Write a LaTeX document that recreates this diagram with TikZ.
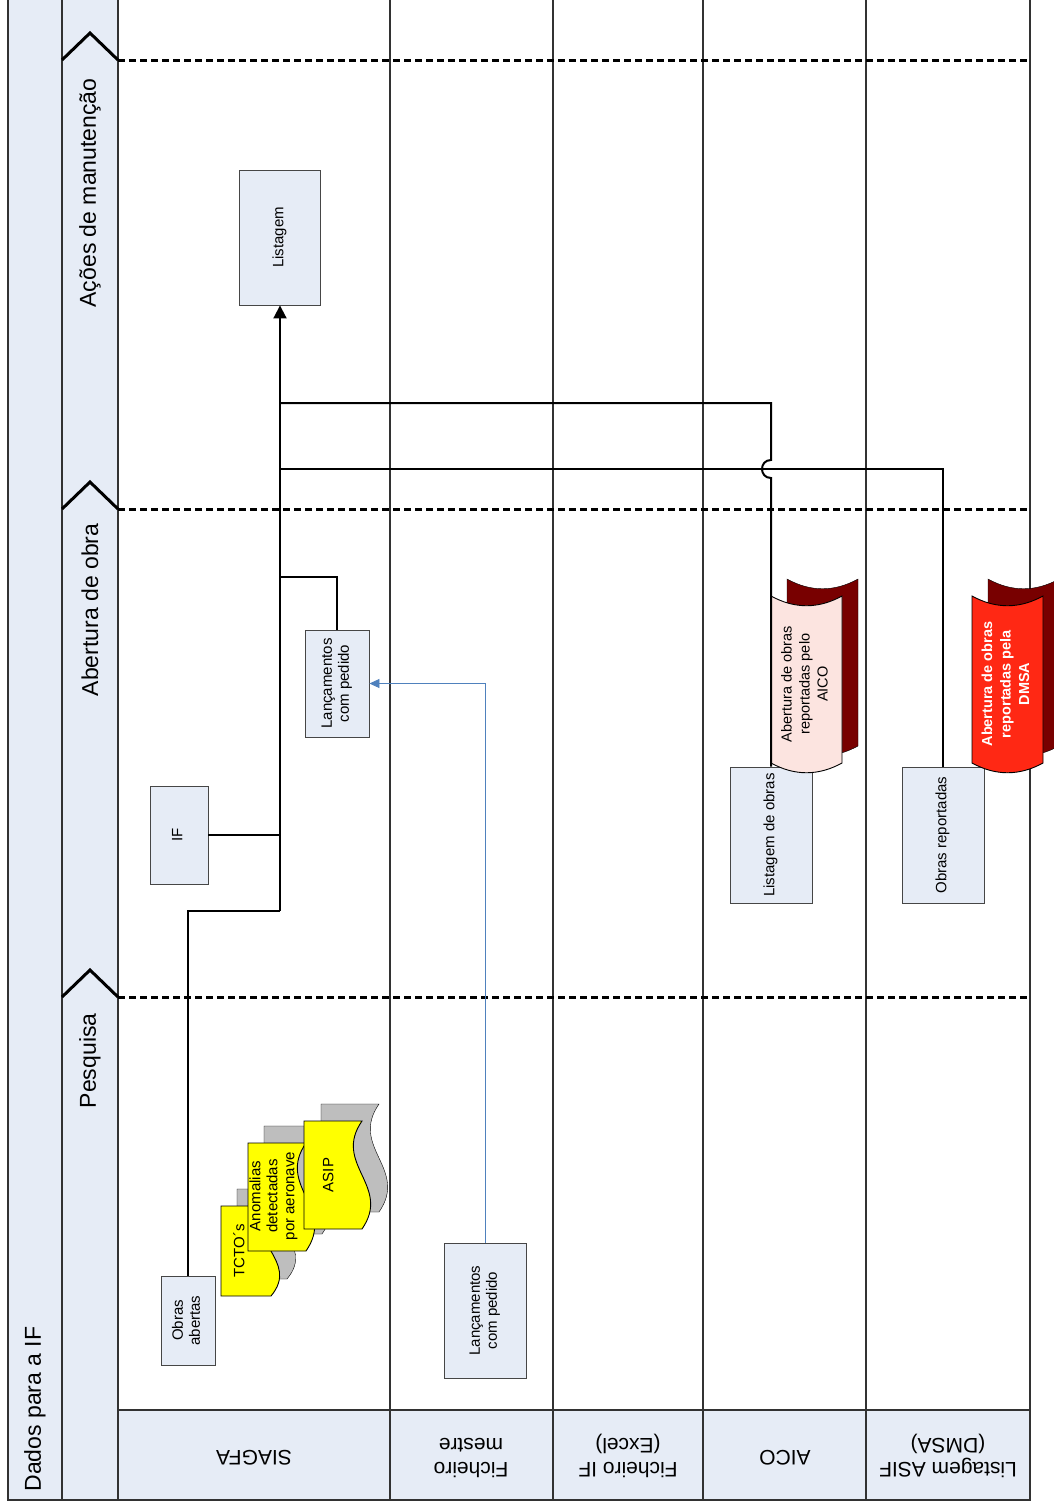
\documentclass[tikz,border=0pt]{standalone}
\usepackage{fontspec}
\setmainfont{Liberation Sans}
\usetikzlibrary{arrows.meta,calc}

\definecolor{laneblue}{RGB}{230,236,246}
\definecolor{boxedge}{RGB}{70,70,70}
\definecolor{docred}{RGB}{255,40,20}
\definecolor{darkred}{RGB}{120,0,0}
\definecolor{docpink}{RGB}{252,228,224}
\definecolor{shadowgray}{RGB}{190,190,190}
\definecolor{linkblue}{RGB}{79,129,189}
\definecolor{docyellow}{RGB}{255,255,0}

% text turned a quarter turn (reads bottom to top), several centred lines
\newcommand{\vtext}[1]{\rotatebox{90}{\begin{tabular}{@{}c@{}}#1\end{tabular}}}
% text turned upside down, used in the lane headers
\newcommand{\ftext}[1]{\rotatebox{180}{\begin{tabular}{@{}c@{}}#1\end{tabular}}}
% document sheet with a wavy right edge: style, left x, top y, right x, bottom y
\newcommand{\wdoc}[5]{%
  \draw[#1] (#2,#3) -- (#4,#3)
    .. controls ({#4-30},{#3+0.4*(#5-#3)}) and ({#4+30},{#3+0.6*(#5-#3)}) .. (#4,#5)
    -- (#2,#5) -- cycle;}
% curved tape sheet: style, left x, top y, width
\newcommand{\tape}[4]{%
  \draw[#1] (#2,#3) .. controls ({#2+#4/3},{#3+13}) and ({#2+2*#4/3},{#3+13}) .. ({#2+#4},#3)
    -- ({#2+#4},{#3+167})
    .. controls ({#2+2*#4/3},{#3+180}) and ({#2+#4/3},{#3+180}) .. (#2,{#3+167}) -- cycle;}

\begin{document}
\begin{tikzpicture}[x=1pt,y=-1pt,
  proc/.style={draw=boxedge, fill=laneblue, line width=0.9pt, inner sep=0pt,
    font=\fontsize{15}{17}\selectfont},
  flow/.style={line width=2pt, black},
  link/.style={line width=0.8pt, linkblue, -{Triangle[length=10pt,width=9pt]}},
  lanerule/.style={line width=1.2pt, draw={rgb,255:red,50;green,50;blue,50}},
  phasesep/.style={line width=3pt, black, dash pattern=on 7pt off 4pt},
  chevron/.style={line width=3pt, black, line join=miter},
  phaselabel/.style={rotate=90, anchor=east, font=\fontsize{23}{27}\selectfont},
  headlabel/.style={font=\fontsize{21}{24}\selectfont},
  doclabel/.style={font=\fontsize{15}{17}\selectfont}]

\useasboundingbox (0,0) rectangle (1053,1507);
\fill[white] (0,0) rectangle (1053,1507);

% ---------- pool frame ----------
\fill[laneblue] (8,0) rectangle (118,1500);
\fill[laneblue] (118,1410) rectangle (1030,1500);
\draw[lanerule] (8,0) -- (8,1500) -- (1030,1500) -- (1030,0);
\draw[lanerule] (62,0) -- (62,1500);
\foreach \x in {118,390,553,703,866}
  \draw[lanerule] (\x,0) -- (\x,1500);
\draw[lanerule] (118,1410) -- (1030,1410);

\node[rotate=90, anchor=west, font=\fontsize{23}{27}\selectfont] (title) at (35,1495) {Dados para a IF};

% ---------- phases ----------
\foreach \y in {60,509,997} {
  \draw[chevron] (62,\y) -- (90,\y-27) -- (118,\y);
  \draw[phasesep] (118,\y) -- (1030,\y);
}
\node[phaselabel] (ph3) at (90,75) {Ações de manutenção};
\node[phaselabel] (ph2) at (90,520) {Abertura de obra};
\node[phaselabel] (ph1) at (90,1010) {Pesquisa};

% ---------- lane headers ----------
\node[headlabel] (h1) at (254,1455) {\ftext{SIAGFA}};
\node[headlabel] (h2) at (471,1455) {\ftext{Ficheiro\\mestre}};
\node[headlabel] (h3) at (628,1455) {\ftext{Ficheiro IF\\(Excel)}};
\node[headlabel] (h4) at (785,1455) {\ftext{AICO}};
\node[headlabel] (h5) at (948,1455) {\ftext{Listagem ASIF\\(DMSA)}};

% ---------- process boxes ----------
\node[proc, minimum width=54pt, minimum height=89pt] (obras) at (188,1320.5) {\vtext{Obras\\abertas}};
\node[proc, minimum width=58pt, minimum height=98pt] (if) at (179,835) {\vtext{IF}};
\node[proc, minimum width=81pt, minimum height=135pt] (list) at (280,237.5) {\vtext{Listagem}};
\node[proc, minimum width=64pt, minimum height=107pt] (lanc1) at (337,683.5) {\vtext{Lançamentos\\com pedido}};
\node[proc, minimum width=82pt, minimum height=135pt] (lanc2) at (485,1310.5) {\vtext{Lançamentos\\com pedido}};
\node[proc, minimum width=82pt, minimum height=136pt] (aicobox) at (771,835) {\vtext{Listagem de obras}};
\node[proc, minimum width=82pt, minimum height=136pt] (asifbox) at (943,835) {\vtext{Obras reportadas}};

% ---------- documents in SIAGFA ----------
\wdoc{fill=shadowgray}{237}{1189}{287}{1279}
\wdoc{draw=black, line width=0.9pt, fill=docyellow}{221}{1206}{271}{1296}
\wdoc{fill=shadowgray}{264}{1126}{322}{1234}
\wdoc{draw=black, line width=0.9pt, fill=docyellow}{248}{1143}{306}{1251}
\wdoc{fill=shadowgray}{321}{1104}{379}{1212}
\wdoc{draw=black, line width=0.9pt, fill=docyellow}{304}{1121}{362}{1229}
\node[doclabel] (tcto) at (241,1251) {\vtext{TCTO´s}};
\node[doclabel] (anom) at (274,1196) {\vtext{Anomalias\\detectadas\\por aeronave}};
\node[doclabel] (asip) at (330,1175) {\vtext{ASIP}};

% ---------- tape sheets ----------
\tape{fill=darkred}{787}{579}{71}
\tape{draw=black, line width=0.9pt, fill=docpink}{771}{596}{71}
\node[font=\fontsize{14.5}{18}\selectfont] (aicodoc) at (806,684) {\vtext{Abertura de obras\\reportadas pelo\\AICO}};
\tape{fill=darkred}{988}{579}{71}
\tape{draw=black, line width=0.9pt, fill=docred}{972}{596}{71}
\node[font=\fontsize{14.5}{18.5}\selectfont\bfseries, text=white] (dmsadoc) at (1007,684) {\vtext{Abertura de obras\\reportadas pela\\DMSA}};

% ---------- connectors ----------
\coordinate (jo) at (280,911);
\coordinate (jl) at (280,577);
\coordinate (ja) at (280,403);
\coordinate (js) at (280,469);
\draw[flow] (obras.north) |- (jo);
\draw[flow, -{Triangle[length=13pt,width=13pt]}] (jo) -- (list.south);
\draw[flow] (if.east) -- (if.east -| jo);
\draw[flow] (lanc1.north) |- (jl);
\draw[flow] (asifbox.north) |- (js);
\draw[flow] (aicobox.north) -- (771,478)
  .. controls (759,478) and (759,460) .. (771,460) |- (ja);
\draw[link] (lanc2.north) |- (lanc1.east);

\end{tikzpicture}
\end{document}
